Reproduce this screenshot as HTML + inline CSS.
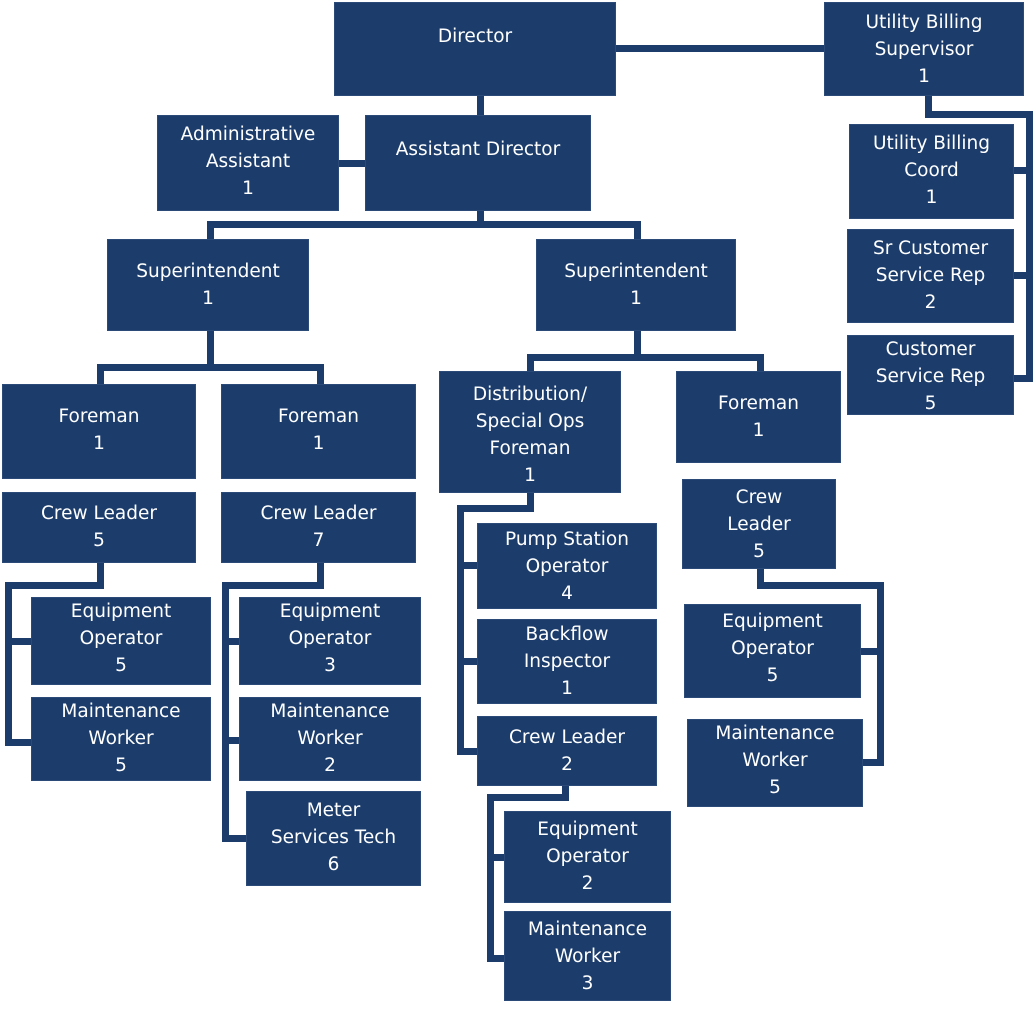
<!DOCTYPE html>
<html><head><meta charset="utf-8"><style>
body{margin:0;width:1035px;height:1009px;background:#fff;position:relative;overflow:hidden;font-family:"DejaVu Sans","Liberation Sans",sans-serif;}
.b{position:absolute;background:#1c3d6c;color:#fff;text-align:center;font-size:18.5px;line-height:27px;box-sizing:border-box;padding-top:10px;outline:1px solid #2b4a78;}
.l{position:absolute;background:#1c3d6c;}
</style></head><body>
<!-- lines -->
<div class="l" style="left:615px;top:45px;width:212px;height:7px"></div>
<div class="l" style="left:477px;top:95px;width:7px;height:22px"></div>
<div class="l" style="left:338px;top:160px;width:30px;height:7px"></div>
<div class="l" style="left:477px;top:210px;width:7px;height:15px"></div>
<div class="l" style="left:207px;top:221px;width:434px;height:7px"></div>
<div class="l" style="left:207px;top:221px;width:7px;height:20px"></div>
<div class="l" style="left:634px;top:221px;width:7px;height:20px"></div>
<div class="l" style="left:925px;top:95px;width:7px;height:20px"></div>
<div class="l" style="left:925px;top:111px;width:108px;height:7px"></div>
<div class="l" style="left:1026px;top:111px;width:7px;height:271px"></div>
<div class="l" style="left:1013px;top:167px;width:18px;height:7px"></div>
<div class="l" style="left:1013px;top:272px;width:18px;height:7px"></div>
<div class="l" style="left:1013px;top:375px;width:18px;height:7px"></div>
<div class="l" style="left:207px;top:330px;width:7px;height:38px"></div>
<div class="l" style="left:97px;top:364px;width:227px;height:7px"></div>
<div class="l" style="left:97px;top:364px;width:7px;height:22px"></div>
<div class="l" style="left:317px;top:364px;width:7px;height:22px"></div>
<div class="l" style="left:634px;top:330px;width:7px;height:28px"></div>
<div class="l" style="left:527px;top:354px;width:237px;height:7px"></div>
<div class="l" style="left:527px;top:354px;width:7px;height:19px"></div>
<div class="l" style="left:757px;top:354px;width:7px;height:19px"></div>
<div class="l" style="left:97px;top:562px;width:7px;height:26px"></div>
<div class="l" style="left:5px;top:582px;width:99px;height:7px"></div>
<div class="l" style="left:5px;top:582px;width:7px;height:164px"></div>
<div class="l" style="left:5px;top:638px;width:28px;height:7px"></div>
<div class="l" style="left:5px;top:739px;width:28px;height:7px"></div>
<div class="l" style="left:317px;top:562px;width:7px;height:26px"></div>
<div class="l" style="left:222px;top:582px;width:102px;height:7px"></div>
<div class="l" style="left:222px;top:582px;width:7px;height:260px"></div>
<div class="l" style="left:222px;top:638px;width:20px;height:7px"></div>
<div class="l" style="left:222px;top:737px;width:20px;height:7px"></div>
<div class="l" style="left:222px;top:835px;width:26px;height:7px"></div>
<div class="l" style="left:527px;top:492px;width:7px;height:18px"></div>
<div class="l" style="left:457px;top:505px;width:77px;height:7px"></div>
<div class="l" style="left:457px;top:505px;width:7px;height:250px"></div>
<div class="l" style="left:457px;top:562px;width:22px;height:7px"></div>
<div class="l" style="left:457px;top:658px;width:22px;height:7px"></div>
<div class="l" style="left:457px;top:748px;width:22px;height:7px"></div>
<div class="l" style="left:562px;top:785px;width:7px;height:15px"></div>
<div class="l" style="left:487px;top:794px;width:82px;height:7px"></div>
<div class="l" style="left:487px;top:794px;width:7px;height:168px"></div>
<div class="l" style="left:487px;top:854px;width:20px;height:7px"></div>
<div class="l" style="left:487px;top:955px;width:20px;height:7px"></div>
<div class="l" style="left:757px;top:568px;width:7px;height:20px"></div>
<div class="l" style="left:757px;top:582px;width:127px;height:7px"></div>
<div class="l" style="left:877px;top:582px;width:7px;height:184px"></div>
<div class="l" style="left:860px;top:648px;width:22px;height:7px"></div>
<div class="l" style="left:862px;top:759px;width:20px;height:7px"></div>
<!-- boxes -->
<div class="b" style="left:335px;top:3px;width:280px;height:92px;padding-top:20px">Director</div>
<div class="b" style="left:825px;top:3px;width:198px;height:92px;padding-top:6px">Utility Billing<br>Supervisor<br>1</div>
<div class="b" style="left:158px;top:116px;width:180px;height:94px;padding-top:5px">Administrative<br>Assistant<br>1</div>
<div class="b" style="left:366px;top:116px;width:224px;height:94px;padding-top:20px">Assistant Director</div>
<div class="b" style="left:850px;top:125px;width:163px;height:93px;padding-top:5px">Utility Billing<br>Coord<br>1</div>
<div class="b" style="left:848px;top:230px;width:165px;height:92px;padding-top:5px">Sr Customer<br>Service Rep<br>2</div>
<div class="b" style="left:848px;top:336px;width:165px;height:78px;padding-top:0px">Customer<br>Service Rep<br>5</div>
<div class="b" style="left:108px;top:240px;width:200px;height:90px;padding-top:18px">Superintendent<br>1</div>
<div class="b" style="left:537px;top:240px;width:198px;height:90px;padding-top:18px">Superintendent<br>1</div>
<div class="b" style="left:3px;top:385px;width:192px;height:93px;padding-top:18px">Foreman<br>1</div>
<div class="b" style="left:222px;top:385px;width:193px;height:93px;padding-top:18px">Foreman<br>1</div>
<div class="b" style="left:440px;top:372px;width:180px;height:120px;padding-top:9px">Distribution/<br>Special Ops<br>Foreman<br>1</div>
<div class="b" style="left:677px;top:372px;width:163px;height:90px;padding-top:18px">Foreman<br>1</div>
<div class="b" style="left:3px;top:493px;width:192px;height:69px;padding-top:7px">Crew Leader<br>5</div>
<div class="b" style="left:222px;top:493px;width:193px;height:69px;padding-top:7px">Crew Leader<br>7</div>
<div class="b" style="left:683px;top:480px;width:152px;height:88px;padding-top:4px">Crew<br>Leader<br>5</div>
<div class="b" style="left:32px;top:598px;width:178px;height:86px;padding-top:0px">Equipment<br>Operator<br>5</div>
<div class="b" style="left:32px;top:698px;width:178px;height:82px;padding-top:0px">Maintenance<br>Worker<br>5</div>
<div class="b" style="left:240px;top:598px;width:180px;height:86px;padding-top:0px">Equipment<br>Operator<br>3</div>
<div class="b" style="left:240px;top:698px;width:180px;height:82px;padding-top:0px">Maintenance<br>Worker<br>2</div>
<div class="b" style="left:247px;top:792px;width:173px;height:93px;padding-top:5px">Meter<br>Services Tech<br>6</div>
<div class="b" style="left:478px;top:524px;width:178px;height:84px;padding-top:2px">Pump Station<br>Operator<br>4</div>
<div class="b" style="left:478px;top:620px;width:178px;height:83px;padding-top:1px">Backflow<br>Inspector<br>1</div>
<div class="b" style="left:478px;top:717px;width:178px;height:68px;padding-top:7px">Crew Leader<br>2</div>
<div class="b" style="left:505px;top:812px;width:165px;height:90px;padding-top:4px">Equipment<br>Operator<br>2</div>
<div class="b" style="left:505px;top:912px;width:165px;height:88px;padding-top:4px">Maintenance<br>Worker<br>3</div>
<div class="b" style="left:685px;top:605px;width:175px;height:92px;padding-top:3px">Equipment<br>Operator<br>5</div>
<div class="b" style="left:688px;top:720px;width:174px;height:86px;padding-top:0px">Maintenance<br>Worker<br>5</div>
</body></html>
